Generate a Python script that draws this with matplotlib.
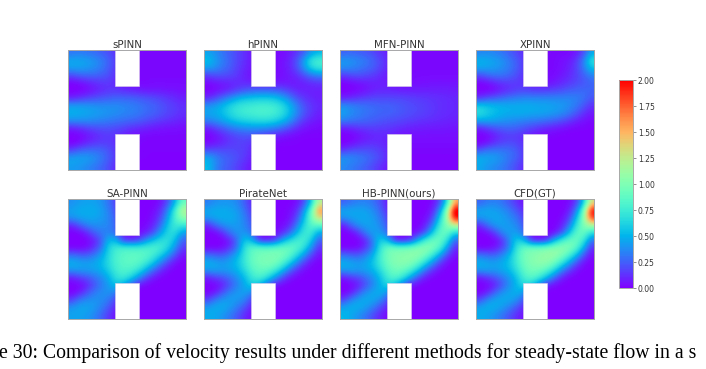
import numpy as np
import matplotlib
matplotlib.use("Agg")
import matplotlib.pyplot as plt
from matplotlib.patches import Rectangle

W, H = 706, 369
titles = ["sPINN", "hPINN", "MFN-PINN", "XPINN", "SA-PINN", "PirateNet", "HB-PINN(ours)", "CFD(GT)"]
cbar_ticks = [0.0, 0.25, 0.5, 0.75, 1.0, 1.25, 1.5, 1.75, 2.0]
caption = "e 30: Comparison of velocity results under different methods for steady-state flow in a s"

# velocity on a coarse 16x16 grid, in hundredths
spinn = [
[30,32,30,28,24,20,12,6,3,2,2,2,2,2,2,2],
[46,46,44,40,34,26,16,6,3,2,2,2,2,2,2,2],
[44,44,42,38,32,24,14,6,3,2,2,2,2,2,2,2],
[18,24,26,26,24,20,12,5,3,2,2,2,2,2,2,2],
[0,2,6,10,13,14,10,5,3,2,2,3,3,3,3,3],
[0,0,2,6,10,13,14,12,10,8,6,6,6,5,5,4],
[8,12,16,20,22,24,26,26,26,24,22,20,17,14,11,8],
[44,44,42,40,38,38,38,36,34,32,28,26,22,18,15,12],
[50,48,46,44,42,40,38,36,34,32,28,26,22,18,15,12],
[38,38,38,36,34,32,30,28,26,24,20,17,14,12,10,8],
[6,10,14,18,20,20,18,16,12,10,8,6,5,4,4,3],
[0,0,4,8,12,14,12,8,4,3,2,2,2,2,2,2],
[0,4,10,14,16,16,12,5,2,2,1,1,1,1,1,1],
[20,28,30,30,28,22,14,4,2,1,1,1,1,1,1,1],
[46,46,44,40,32,24,14,4,2,1,1,0,0,0,0,0],
[42,40,36,32,26,20,10,3,1,0,0,0,0,0,0,0]]
hpinn = [
[44,38,30,24,18,12,6,3,2,2,3,6,12,22,40,50],
[56,44,34,26,18,12,6,3,2,2,4,8,20,42,72,80],
[44,38,30,24,16,10,5,3,2,2,4,8,18,38,62,72],
[14,20,20,18,14,8,5,3,2,2,4,6,10,18,28,34],
[2,4,6,8,10,10,8,6,5,5,6,6,6,8,10,12],
[0,2,6,10,16,22,26,28,28,26,22,16,10,8,8,8],
[10,18,28,38,48,54,56,58,58,56,48,36,22,14,10,8],
[40,44,52,62,70,74,76,78,78,76,68,54,36,22,14,10],
[46,48,54,64,72,76,78,80,80,78,70,56,38,22,14,8],
[34,38,44,52,58,62,64,66,66,62,54,42,26,14,8,5],
[6,14,22,28,34,36,38,38,36,32,26,18,10,5,3,2],
[0,3,8,14,18,20,20,16,12,8,5,3,2,1,1,1],
[2,6,10,14,16,16,12,6,3,1,1,1,1,0,0,0],
[22,22,20,20,18,16,10,4,2,1,0,0,0,0,0,0],
[50,38,28,24,20,14,8,3,1,0,0,0,0,0,0,0],
[54,36,26,22,16,10,5,2,0,0,0,0,0,0,0,0]]
mfn = [
[24,26,24,22,18,12,8,4,2,2,2,2,2,2,2,2],
[42,40,36,32,26,18,10,4,2,2,2,2,2,2,2,2],
[38,36,32,28,24,16,9,4,2,2,2,2,2,2,2,2],
[14,18,20,18,15,11,7,3,2,2,3,3,3,3,3,3],
[0,2,4,6,8,8,6,4,3,3,4,4,5,5,5,5],
[0,0,2,5,8,10,10,9,8,8,8,8,8,8,8,7],
[8,10,14,16,18,18,18,18,18,16,15,14,13,12,11,10],
[40,36,32,30,28,26,26,24,22,20,18,16,14,12,11,10],
[44,38,34,30,28,26,26,24,22,20,18,16,14,12,11,10],
[34,30,28,26,24,22,20,18,17,15,13,12,11,10,9,8],
[5,8,12,14,15,14,14,12,10,8,7,7,6,6,6,5],
[0,0,3,6,9,10,9,6,4,4,4,4,4,4,4,4],
[0,3,8,11,12,11,8,4,3,3,3,3,3,3,3,3],
[16,22,22,22,20,16,10,3,2,2,2,2,2,2,2,2],
[42,38,34,30,24,18,10,3,2,1,1,1,1,1,1,1],
[36,32,28,24,18,12,6,2,1,1,1,1,1,1,1,1]]
xpinn = [
[34,36,34,30,24,18,10,5,2,2,2,2,2,6,18,46],
[50,48,44,40,32,24,14,5,2,2,2,4,6,14,34,72],
[46,44,42,38,32,24,14,5,2,2,2,4,8,16,32,56],
[18,26,30,30,26,20,12,5,2,2,3,6,10,16,24,34],
[0,2,8,12,14,14,12,6,4,4,6,10,14,18,22,26],
[0,0,2,8,12,16,18,16,16,16,18,20,24,26,28,26],
[12,20,24,28,32,34,36,36,36,36,36,36,36,34,30,22],
[60,56,52,50,48,48,48,48,46,46,44,42,38,32,22,12],
[68,60,54,50,48,48,48,46,46,44,42,38,32,22,12,6],
[46,46,44,40,38,36,34,32,30,28,24,20,14,8,4,2],
[6,14,20,24,26,24,20,16,12,8,6,4,2,1,1,0],
[0,0,6,12,14,14,10,5,2,1,1,0,0,0,0,0],
[0,6,14,18,20,18,12,3,1,0,0,0,0,0,0,0],
[26,34,34,32,30,24,14,3,1,0,0,0,0,0,0,0],
[50,46,44,38,30,24,14,3,1,0,0,0,0,0,0,0],
[46,40,36,32,26,18,10,2,0,0,0,0,0,0,0,0]]
sa = [
[38,42,44,44,40,30,16,4,0,0,0,0,4,18,48,90],
[44,48,48,48,44,34,20,4,0,0,0,2,10,34,74,125],
[40,44,46,46,42,36,24,4,0,0,0,4,16,44,80,105],
[8,22,34,38,38,36,26,3,0,0,2,8,26,56,76,72],
[0,0,8,24,32,34,28,3,0,2,6,18,42,64,68,42],
[0,0,0,6,22,52,50,14,10,14,36,54,66,70,54,24],
[0,0,2,12,28,62,76,80,80,80,80,82,78,64,40,14],
[30,26,24,32,44,64,80,86,88,88,86,78,62,42,20,5],
[50,46,44,46,52,66,80,86,88,86,76,58,36,16,4,0],
[40,42,42,44,48,60,76,82,80,70,50,28,12,3,0,0],
[6,14,20,28,36,48,68,74,62,40,18,6,1,0,0,0],
[0,0,6,20,32,42,56,46,22,4,1,0,0,0,0,0],
[0,6,20,32,38,40,32,8,0,0,0,0,0,0,0,0],
[16,32,38,40,38,32,16,0,0,0,0,0,0,0,0,0],
[42,46,46,42,34,22,8,0,0,0,0,0,0,0,0,0],
[44,44,42,36,26,14,4,0,0,0,0,0,0,0,0,0]]
pirate = [
[32,38,40,40,36,24,10,2,0,0,0,0,3,16,52,120],
[46,48,48,46,42,30,14,2,0,0,0,2,8,36,82,165],
[42,46,48,48,44,34,20,2,0,0,0,3,16,48,92,135],
[8,26,38,42,42,36,24,2,0,0,2,8,28,62,84,84],
[0,0,10,30,40,40,30,2,0,2,8,22,48,74,76,46],
[0,0,0,6,28,58,50,10,6,12,40,62,76,80,60,24],
[0,0,2,12,30,68,86,90,88,90,92,92,86,70,40,12],
[30,26,24,34,48,72,90,96,98,100,98,88,68,42,18,4],
[50,46,42,46,54,72,90,96,100,98,86,64,38,16,4,0],
[42,44,42,44,50,64,82,90,88,78,56,30,12,3,0,0],
[6,14,20,28,38,52,72,80,68,44,20,6,1,0,0,0],
[0,0,6,20,34,46,60,50,24,4,1,0,0,0,0,0],
[0,6,22,36,42,44,36,8,0,0,0,0,0,0,0,0],
[18,34,42,44,42,34,16,0,0,0,0,0,0,0,0,0],
[44,48,48,42,32,20,6,0,0,0,0,0,0,0,0,0],
[48,46,40,32,22,10,3,0,0,0,0,0,0,0,0,0]]
hb = [
[24,30,34,34,30,20,6,0,0,0,0,0,2,16,60,155],
[46,46,46,44,38,26,10,0,0,0,0,0,6,36,100,215],
[40,44,46,46,42,32,16,0,0,0,0,2,14,56,110,205],
[6,26,40,44,44,36,22,0,0,0,0,6,30,74,102,122],
[0,0,12,34,44,42,28,0,0,2,4,20,54,88,92,60],
[0,0,0,8,34,62,50,8,4,10,44,74,92,94,70,26],
[0,0,2,14,32,72,94,96,94,98,102,106,100,82,44,10],
[30,26,24,34,50,78,96,102,104,106,106,96,74,46,18,3],
[50,46,42,46,56,76,94,102,104,102,90,66,40,16,3,0],
[42,44,42,44,50,66,86,94,92,80,58,30,12,3,0,0],
[4,12,18,28,38,54,76,84,70,46,20,6,1,0,0,0],
[0,0,6,20,36,50,64,52,26,4,1,0,0,0,0,0],
[0,6,24,40,46,50,38,8,0,0,0,0,0,0,0,0],
[18,36,46,48,46,36,18,0,0,0,0,0,0,0,0,0],
[46,50,48,42,32,18,6,0,0,0,0,0,0,0,0,0],
[52,46,38,30,18,8,2,0,0,0,0,0,0,0,0,0]]
cfd = [
[25,32,34,30,22,12,4,0,0,0,0,0,2,14,54,135],
[45,46,44,40,32,22,10,0,0,0,0,0,6,32,92,205],
[42,44,46,44,38,30,16,0,0,0,0,2,14,52,104,190],
[10,28,42,44,42,36,22,0,0,0,0,6,28,70,102,116],
[0,2,14,36,44,42,28,0,0,0,2,18,52,87,92,64],
[0,0,0,10,36,62,50,8,4,10,46,74,90,94,74,30],
[0,0,4,16,34,72,92,96,96,100,104,106,102,86,48,10],
[32,28,26,36,52,78,96,102,106,110,110,100,80,52,20,3],
[50,46,44,48,56,76,94,102,106,106,94,72,46,20,4,0],
[42,44,42,46,52,68,88,96,94,84,64,36,16,4,0,0],
[4,12,20,30,40,56,78,86,74,52,26,8,1,0,0,0],
[0,0,6,22,38,52,66,56,30,6,2,0,0,0,0,0],
[0,8,26,40,46,50,40,10,0,0,0,0,0,0,0,0],
[20,38,46,48,46,38,20,0,0,0,0,0,0,0,0,0],
[46,50,48,42,32,20,8,0,0,0,0,0,0,0,0,0],
[48,44,38,30,20,10,3,0,0,0,0,0,0,0,0,0]]
fields = [spinn, hpinn, mfn, xpinn, sa, pirate, hb, cfd]

lefts = [68, 204, 340, 476]
tops = [50, 199]
aw, ah = 118, 120

fig = plt.figure(figsize=(W/100, H/100), dpi=100, facecolor="white")
edge = "#a8a8a8"
im = None
for k, (name, f) in enumerate(zip(titles, fields)):
    l = lefts[k % 4]; t = tops[k // 4]
    ax = fig.add_axes([l/W, 1-(t+ah)/H, aw/W, ah/H])
    im = ax.imshow(np.array(f)/100, cmap="rainbow", vmin=0, vmax=2, extent=[0, 1, 1, 0],
                   interpolation="bicubic", aspect="auto")
    for (y0, h0) in [(0.0, 0.3), (0.7, 0.3)]:
        ax.add_patch(Rectangle((0.4, y0), 0.2, h0, facecolor="white", edgecolor="#d8d0e8", lw=0.4))
    ax.set_xticks([]); ax.set_yticks([])
    ax.set_xlim(0, 1); ax.set_ylim(1, 0)
    for s in ax.spines.values():
        s.set_color(edge); s.set_linewidth(0.7)
    ax.set_title(name, fontsize=7.4, color="#333333", pad=1.8)

cax = fig.add_axes([619/W, 1-288/H, 14/W, 208/H])
cb = fig.colorbar(im, cax=cax, ticks=cbar_ticks)
cb.ax.set_yticklabels(["%.2f" % v for v in cbar_ticks])
cb.ax.tick_params(labelsize=5.5, length=2, width=0.5, color="#666666", labelcolor="#333333", pad=1.5)
cb.outline.set_edgecolor(edge); cb.outline.set_linewidth(0.7)

fig.text(-1/W, 1-358/H, caption, family="Liberation Serif", fontsize=14.25, color="black", va="baseline")
fig.savefig("out.png", dpi=100)
